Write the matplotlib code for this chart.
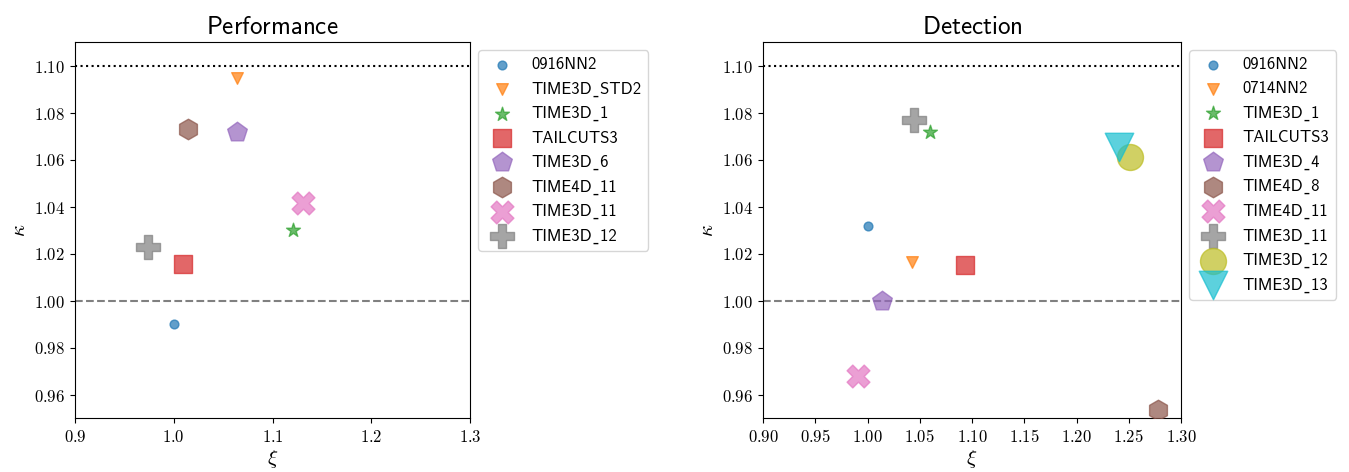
import numpy as np
import matplotlib
matplotlib.use("Agg")
import matplotlib.pyplot as plt
from matplotlib.ticker import FuncFormatter, MultipleLocator
from matplotlib.font_manager import FontProperties

plt.rcParams['mathtext.fontset'] = 'cm'

# ---------------- data ----------------
perf_labels = ["0916NN2", "TIME3D_STD2", "TIME3D_1", "TAILCUTS3", "TIME3D_6",
               "TIME4D_11", "TIME3D_11", "TIME3D_12"]
perf_xi = [1.000, 1.064, 1.121, 1.009, 1.064, 1.014, 1.131, 0.974]
perf_kappa = [0.990, 1.0945, 1.0302, 1.0157, 1.0715, 1.0728, 1.0413, 1.0226]

det_labels = ["0916NN2", "0714NN2", "TIME3D_1", "TAILCUTS3", "TIME3D_4",
              "TIME4D_8", "TIME4D_11", "TIME3D_11", "TIME3D_12", "TIME3D_13"]
det_xi = [1.000, 1.0425, 1.060, 1.093, 1.014, 1.278, 0.991, 1.0445, 1.251, 1.241]
det_kappa = [1.0315, 1.0162, 1.0719, 1.0153, 1.000, 0.9536, 0.968, 1.077, 1.061, 1.0655]

# ---------------- styles ----------------
markers = ['o', 'v', '*', 's', 'p', 'h', 'X', 'P', 'o', 'v']
colors = ['#1f77b4', '#ff7f0e', '#2ca02c', '#d62728', '#9467bd',
          '#8c564b', '#e377c2', '#7f7f7f', '#bcbd22', '#17becf']
sizes = [40, 70, 110, 170, 220, 220, 270, 300, 350, 420]

W, H = 1349, 472
fig = plt.figure(figsize=(W / 100, H / 100), dpi=100)
ax1 = fig.add_axes([75 / W, 1 - 418 / H, 395 / W, 376 / H])
ax2 = fig.add_axes([763 / W, 1 - 418 / H, 418 / W, 376 / H])

leg_font = FontProperties(family=['cmss10', 'DejaVu Sans'], size=12)


def draw(ax, labels, xs, ys, title, xfmt, xstep):
    for i, (lab, x, y) in enumerate(zip(labels, xs, ys)):
        ax.scatter([x], [y], marker=markers[i], color=colors[i], s=sizes[i],
                   alpha=0.7, label=lab.replace('_', '\u02cd'), zorder=3)
    ax.axhline(1.10, color='black', linestyle=':', linewidth=1.5)
    ax.axhline(1.00, color='gray', linestyle='--', linewidth=1.5)
    ax.set_xlim(0.9, 1.3)
    ax.set_ylim(0.95, 1.11)
    ax.xaxis.set_major_locator(MultipleLocator(xstep))
    ax.yaxis.set_major_locator(MultipleLocator(0.02))
    ax.xaxis.set_major_formatter(FuncFormatter(lambda v, p: '$' + (xfmt % v) + '$'))
    ax.yaxis.set_major_formatter(FuncFormatter(lambda v, p: '$%.2f$' % v))
    ax.tick_params(labelsize=12)
    ax.set_xlabel(r'$\xi$', fontsize=15, labelpad=2)
    ax.set_ylabel(r'$\kappa$', fontsize=15, labelpad=4)
    ax.set_title(r'$\mathsf{' + title + '}$', fontsize=18, pad=6)
    ax.legend(loc='upper left', bbox_to_anchor=(1.0, 1.0), prop=leg_font,
              framealpha=0.8, labelspacing=0.56)


draw(ax1, perf_labels, perf_xi, perf_kappa, 'Performance', '%.1f', 0.1)
draw(ax2, det_labels, det_xi, det_kappa, 'Detection', '%.2f', 0.05)

fig.savefig('out.png', dpi=100)
